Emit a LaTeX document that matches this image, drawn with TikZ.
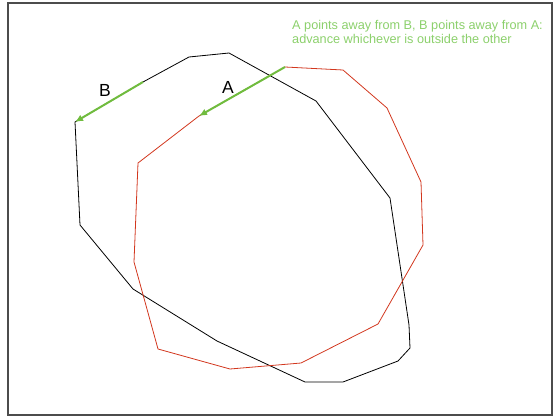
\documentclass[tikz,border=0pt]{standalone}
\usepackage{fontspec}
\setmainfont{Liberation Sans}
\usetikzlibrary{arrows.meta}
\definecolor{polyred}{RGB}{210,55,30}
\definecolor{arrowgreen}{RGB}{112,188,62}
\definecolor{notegreen}{RGB}{140,208,108}
\tikzset{
  frame/.style={draw=black!70, line width=1.3pt},
  polyA/.style={polyred, line width=0.8pt},
  polyB/.style={black, line width=0.8pt},
  advance/.style={arrowgreen, line width=2pt, -{Latex[length=8pt,width=7pt]}},
  lab/.style={inner sep=0pt, font=\fontsize{17.5}{20}\selectfont}}

\begin{document}
\begin{tikzpicture}[x=1pt, y=-1pt]
\useasboundingbox (0,0) rectangle (553,417);
\draw[frame] (8,3) rectangle (552,415);
	% polygon B (black)
	\coordinate (b1) at (75,122);
	\coordinate (b2) at (80,225);
	\coordinate (b3) at (133,289);
	\coordinate (b4) at (217,341);
	\coordinate (b5) at (305,382);
	\coordinate (b6) at (343,382);
	\coordinate (b7) at (398,361);
	\coordinate (b8) at (410,348);
	\coordinate (b9) at (409,325);
	\coordinate (b10) at (390,198);
	\coordinate (b11) at (316,101);
	\coordinate (b12) at (229,53);
	\coordinate (b13) at (189,57);
	\coordinate (b14) at (143,82);
	% polygon A (red)
	\coordinate (a1) at (285,67);
	\coordinate (a2) at (343,70);
	\coordinate (a3) at (387,108);
	\coordinate (a4) at (421,182);
	\coordinate (a5) at (423,245);
	\coordinate (a6) at (378,324);
	\coordinate (a7) at (301,363);
	\coordinate (a8) at (230,369);
	\coordinate (a9) at (158,349);
	\coordinate (a10) at (134,262);
	\coordinate (a11) at (138,163);
	\coordinate (a12) at (199,116);
\draw[polyB] (b1) -- (b2) -- (b3) -- (b4) -- (b5) -- (b6) -- (b7) -- (b8) -- (b9) -- (b10) -- (b11) -- (b12) -- (b13) -- (b14) -- cycle;
\draw[polyA] (a1) -- (a2) -- (a3) -- (a4) -- (a5) -- (a6) -- (a7) -- (a8) -- (a9) -- (a10) -- (a11) -- (a12) -- cycle;
\draw[advance] (b14) -- (b1);
\draw[advance] (a1) -- (a12);
\node[lab] (labB) at (105,90) {B};
\node[lab] (labA) at (228,87) {A};
\node[inner sep=0pt, anchor=north west, align=left, text=notegreen, font=\fontsize{12.7}{14.5}\selectfont] (note) at (292,20) {A points away from B, B points away from A:\\advance whichever is outside the other};
\end{tikzpicture}
\end{document}
